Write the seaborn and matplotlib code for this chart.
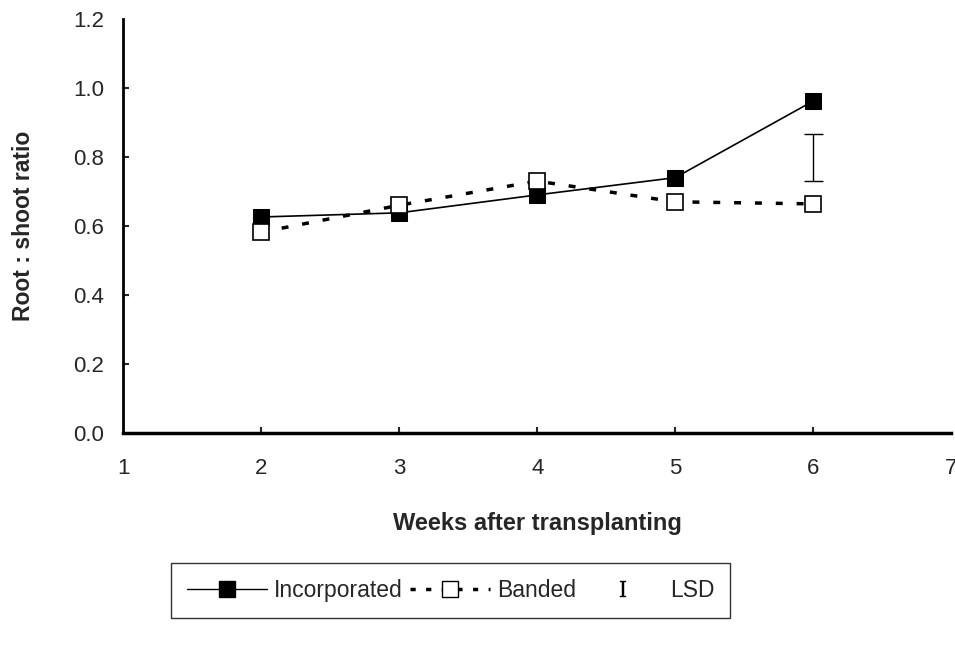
import matplotlib
matplotlib.use("Agg")
import matplotlib.pyplot as plt
import seaborn as sns
import pandas as pd
from matplotlib.lines import Line2D

# Data
weeks = [2, 3, 4, 5, 6]
incorporated = [0.626, 0.638, 0.690, 0.740, 0.962]
banded = [0.582, 0.660, 0.730, 0.670, 0.664]
lsd_week = 6
lsd_low = 0.730
lsd_high = 0.867

df = pd.DataFrame({
    "week": weeks * 2,
    "ratio": incorporated + banded,
    "treatment": ["Incorporated"] * len(weeks) + ["Banded"] * len(weeks),
})

sns.set_style("white")
plt.rcParams["font.family"] = ["Liberation Sans", "DejaVu Sans"]
plt.rcParams["mathtext.fontset"] = "dejavuserif"

fig = plt.figure(figsize=(9.55, 6.54), dpi=100)
ax = fig.add_axes([0.129, 0.338, 0.867, 0.633])

sns.lineplot(data=df[df.treatment == "Incorporated"], x="week", y="ratio",
             color="black", linewidth=1.2, marker="s", markersize=11,
             markerfacecolor="black", markeredgecolor="black", ax=ax)
sns.lineplot(data=df[df.treatment == "Banded"], x="week", y="ratio",
             color="black", linewidth=2.5, linestyle=(0, (2, 4)),
             marker="s", markersize=11, markerfacecolor="white",
             markeredgecolor="black", markeredgewidth=1.2, ax=ax)

# LSD bar
ax.vlines(lsd_week, lsd_low, lsd_high, color="black", linewidth=1)
ax.hlines([lsd_low, lsd_high], lsd_week - 0.07, lsd_week + 0.07,
          color="black", linewidth=1)

ax.set_xlim(1, 7)
ax.set_ylim(0, 1.2)
ax.set_xticks([1, 2, 3, 4, 5, 6, 7])
ax.set_yticks([0.0, 0.2, 0.4, 0.6, 0.8, 1.0, 1.2])
ax.set_yticklabels(["0.0", "0.2", "0.4", "0.6", "0.8", "1.0", "1.2"])
ax.tick_params(axis="both", direction="in", length=4, width=1.5,
               labelsize=16, pad=18)
ax.tick_params(axis="y", pad=14)
ax.xaxis.set_ticks_position("bottom")
ax.yaxis.set_ticks_position("left")
# no tick marks at the ends of the axes
for t in [ax.xaxis.get_major_ticks()[0], ax.xaxis.get_major_ticks()[-1],
          ax.yaxis.get_major_ticks()[0], ax.yaxis.get_major_ticks()[-1]]:
    t.tick1line.set_visible(False)

for side in ["top", "right"]:
    ax.spines[side].set_visible(False)
ax.spines["left"].set_linewidth(2)
ax.spines["bottom"].set_linewidth(2.5)
ax.spines["left"].set_color("black")
ax.spines["bottom"].set_color("black")

ax.set_xlabel("Weeks after transplanting", fontsize=17, fontweight="bold",
              labelpad=24)
ax.set_ylabel("Root : shoot ratio", fontsize=16.5, fontweight="bold",
              labelpad=27)

handles = [
    Line2D([], [], color="black", linewidth=1, marker="s", markersize=11,
           markerfacecolor="black"),
    Line2D([], [], color="black", linewidth=2.5, linestyle=(0, (1.5, 3)),
           marker="s", markersize=11, markerfacecolor="white"),
    Line2D([], [], color="black", linestyle="none", marker="$\\mathrm{I}$",
           markersize=11, markeredgewidth=0.3),
]
leg = fig.legend(handles, ["Incorporated", "Banded", "LSD"],
                 loc="center", bbox_to_anchor=(0.472, 0.097), ncol=3,
                 frameon=True, fancybox=False, edgecolor="black",
                 fontsize=16.5, handlelength=3.5, handletextpad=0.3,
                 columnspacing=0.3, borderpad=0.7)
leg.get_frame().set_linewidth(1)

fig.savefig("out.png", dpi=100)
